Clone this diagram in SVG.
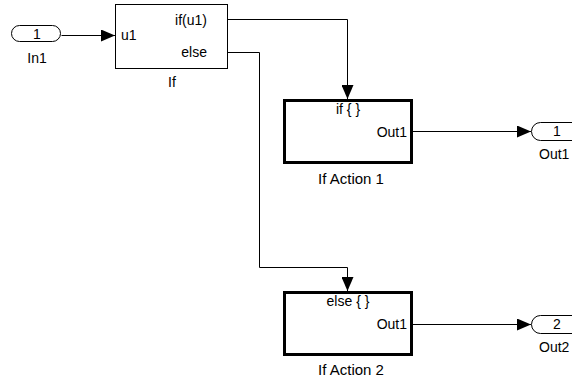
<svg xmlns="http://www.w3.org/2000/svg" width="572" height="378" viewBox="0 0 572 378">
<defs>
<style>
text{font-family:"Liberation Sans",Arial,sans-serif;font-size:14px;fill:#000}
.m{text-anchor:middle}
.e{text-anchor:end}
.nm{font-size:15px}
.blk{fill:#fff;stroke:#000;stroke-width:1}
.act{fill:#fff;stroke:#000;stroke-width:3}
.port{fill:#fff;stroke:#000;stroke-width:1}
.ln{fill:none;stroke:#000;stroke-width:1}
</style>
<marker id="ah" viewBox="0 0 14 12" refX="14" refY="6" markerWidth="14" markerHeight="12" markerUnits="userSpaceOnUse" orient="auto">
<path d="M0,0 L14,6 L0,12 Z" fill="#000"/>
</marker>
</defs>
<g id="connectors">
<path class="ln" d="M61.5,35.5 H115" marker-end="url(#ah)"/>
<path class="ln" d="M228,19.5 H347.5 V99" marker-end="url(#ah)"/>
<path class="ln" d="M228,52.5 H259.5 V267.5 H347.5 V291" marker-end="url(#ah)"/>
<path class="ln" d="M413,131.5 H531" marker-end="url(#ah)"/>
<path class="ln" d="M413,324.5 H531" marker-end="url(#ah)"/>
</g>
<g id="In1">
<rect class="port" x="11.5" y="25.5" width="49" height="16" rx="8"/>
<text class="m" x="37" y="39">1</text>
<text class="m" x="37" y="63">In1</text>
</g>
<g id="If">
<rect class="blk" x="115.5" y="4.5" width="112" height="64"/>
<text x="121" y="40">u1</text>
<text class="e" x="207" y="25">if(u1)</text>
<text class="e" x="207" y="57">else</text>
<text class="m" x="172" y="87">If</text>
</g>
<g id="IfAction1">
<rect class="act" x="284.5" y="100.5" width="127" height="62"/>
<text class="m" x="348" y="114">if { }</text>
<text class="e" x="407" y="137">Out1</text>
<text class="m nm" x="351" y="184">If Action 1</text>
</g>
<g id="IfAction2">
<rect class="act" x="284.5" y="292.5" width="127" height="62"/>
<text class="m" x="348" y="306">else { }</text>
<text class="e" x="407" y="329">Out1</text>
<text class="m nm" x="351" y="375">If Action 2</text>
</g>
<g id="Out1">
<rect class="port" x="531.5" y="122.5" width="50" height="18" rx="9"/>
<text class="m" x="557" y="136">1</text>
<text x="539" y="159">Out1</text>
</g>
<g id="Out2">
<rect class="port" x="531.5" y="315.5" width="50" height="18" rx="9"/>
<text class="m" x="557" y="329">2</text>
<text x="539" y="352">Out2</text>
</g>
</svg>
